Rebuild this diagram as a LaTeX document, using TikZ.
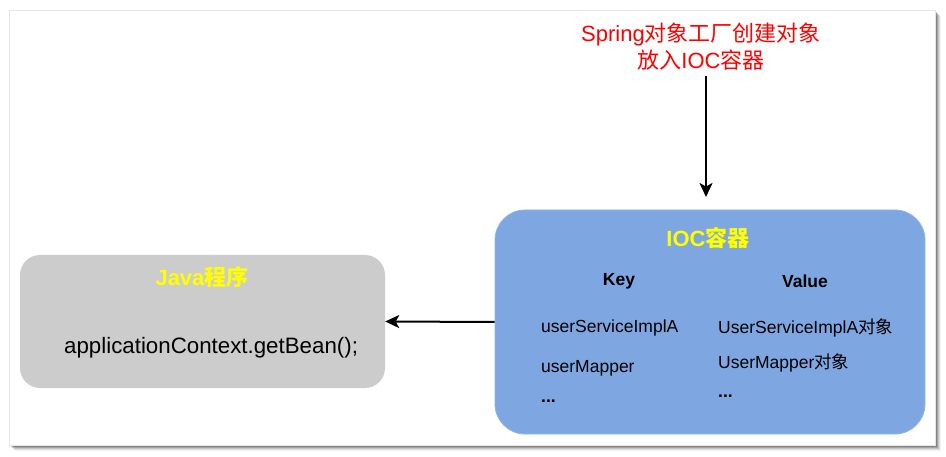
\documentclass[tikz,border=0pt]{standalone}
\usepackage{fontspec}
\setmainfont{Liberation Sans}
\newfontfamily\cjk{Noto Sans CJK SC}
\newcommand\zh[1]{{\cjk #1}}
\usetikzlibrary{arrows.meta}
\definecolor{boxgray}{HTML}{CCCCCC}
\definecolor{boxblue}{HTML}{7EA6E0}
\definecolor{ttlyellow}{HTML}{FFFF00}
\definecolor{txtred}{HTML}{FF0000}
\definecolor{framegray}{HTML}{E6E6E6}
\tikzset{
  javabox/.style={fill=boxgray, draw=none, rounded corners=20pt, minimum width=365pt, minimum height=133pt, inner sep=0pt},
  iocbox/.style={fill=boxblue, draw=boxblue!85!white, line width=0.8pt, rounded corners=30pt, minimum width=430pt, minimum height=224pt, inner sep=0pt},
  title/.style={text=ttlyellow, font=\fontsize{22}{26}\selectfont\bfseries, inner sep=0pt},
  hdr/.style={text=black, font=\fontsize{17.5}{21}\selectfont\bfseries, inner sep=0pt},
  cell/.style={text=black, font=\fontsize{17.5}{21}\selectfont, inner sep=0pt, anchor=west},
  conn/.style={line width=2pt, -{Stealth[length=14pt, width=13pt, inset=3.5pt]}},
}
\begin{document}
\begin{tikzpicture}[x=1pt,y=-1pt]
\useasboundingbox (0,0) rectangle (946,457);
% shadow of the frame
\foreach \o/\op in {6/0.05,5/0.08,4/0.12,3/0.16,2/0.2}{
  \fill[black, opacity=\op] (9+\o,10+\o) rectangle (935+\o,445+\o);
}
\draw[draw=framegray, fill=white, line width=0.8pt] (9,10) rectangle (935,445);

% boxes
\node[javabox] (java) at (202.5,321.5) {};
\node[iocbox] (ioc) at (710,322) {};

% red text
\node[text=txtred, font=\fontsize{22}{27}\selectfont, align=center, inner sep=0pt] (spring) at (701,46.5)
  {Spring\zh{对象工厂创建对象}\\\zh{放入}IOC\zh{容器}};

% titles
\node[title] (javatitle) at (202,277) {Java{\cjk\bfseries 程序}};
\node[title] (ioctitle) at (708,238) {IOC{\cjk\bfseries 容器}};

% java content
\node[text=black, font=\fontsize{22.3}{26}\selectfont, inner sep=0pt, anchor=west] (call) at (64,348) {applicationContext.getBean();};

% ioc content
\node[hdr] (key) at (619,281) {Key};
\node[hdr] (val) at (805,281) {Value};
\node[cell] (k1) at (541,328) {userServiceImplA};
\node[cell] (k2) at (541,368) {userMapper};
\node[cell] (k3) at (541,401) {\textbf{...}};
\node[cell] (v1) at (718,328) {UserServiceImplA\zh{对象}};
\node[cell] (v2) at (718,363) {UserMapper\zh{对象}};
\node[cell] (v3) at (718,396) {\textbf{...}};

% connectors
\coordinate (a1s) at (706,76);
\coordinate (a1e) at (706,197);
\draw[conn] (a1s) -- (a1e);
\draw[conn] (ioc.west) -- (java.east);
\end{tikzpicture}
\end{document}
